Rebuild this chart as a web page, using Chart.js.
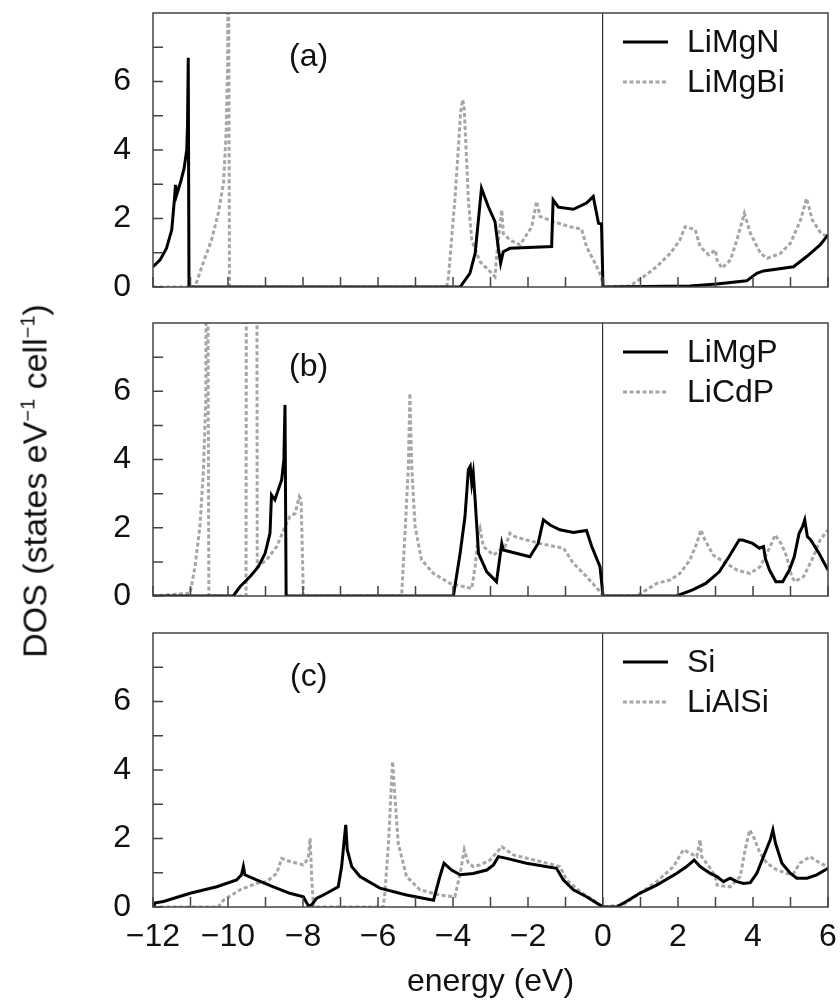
<!DOCTYPE html>
<html>
<head>
<meta charset="utf-8">
<title>DOS panels</title>
<script src="https://cdn.jsdelivr.net/npm/chart.js@4.4.1/dist/chart.umd.min.js"></script>
<style>
  html, body { margin: 0; padding: 0; background: #fff; }
  #wrap { position: relative; width: 840px; height: 1003px; overflow: hidden; }
  #wrap canvas { position: absolute; left: 0; }
  #ylabel {
    position: absolute; left: 35px; top: 481px;
    transform: translate(-50%, -50%) rotate(-90deg);
    white-space: nowrap; color: #111;
    font: 34px "Liberation Sans", Arial, sans-serif;
  }
  #ylabel sup { font-size: 20px; }
</style>
</head>
<body>
<div id="wrap">
  <canvas id="panelA" width="840" height="300" style="top:0px"></canvas>
  <canvas id="panelB" width="840" height="300" style="top:310px"></canvas>
  <canvas id="panelC" width="840" height="383" style="top:620px"></canvas>
  <div id="ylabel">DOS (states eV<sup>&minus;1</sup> cell<sup>&minus;1</sup>)</div>
</div>
<script>
// ---- data (energy in eV, DOS in states/eV/cell) ----

// (a) LiMgN
var limgnE = [-12, -11.81, -11.64, -11.50, -11.43, -11.40, -11.37, -11.26, -11.17, -11.10, -11.08, -11.06, -11.04,
  -3.81, -3.55, -3.41, -3.24, -3.06, -2.88, -2.79, -2.73, -2.66, -2.48, -1.37, -1.33, -1.19, -0.79, -0.44, -0.26, -0.12, -0.04, 0,
  2.32, 3.03, 3.83, 4.10, 4.28, 5.08, 5.43, 5.79, 6.0];
var limgnDos = [0.59, 0.79, 1.13, 1.67, 2.54, 2.98, 2.69, 3.08, 3.47, 4.01, 4.69, 6.69, 0,
  0, 0.40, 0.98, 2.88, 2.35, 1.91, 1.13, 0.69, 1.03, 1.13, 1.18, 2.54, 2.33, 2.27, 2.45, 2.64, 1.86, 1.84, 0,
  0.03, 0.09, 0.18, 0.40, 0.47, 0.59, 0.89, 1.23, 1.52];

// (a) LiMgBi
var limgbiE = [-12, -10.88, -10.70, -10.44, -10.26, -10.12, -10.05, -10.01, -9.99, -9.96,
  -4.17, -4.12, -4.04, -3.95, -3.86, -3.80, -3.74, -3.70, -3.65, -3.59, -3.50, -3.28, -3.01, -2.88, -2.83, -2.70, -2.66,
  -2.48, -2.21, -1.90, -1.77, -1.68, -1.33, -0.88, -0.57, -0.44, -0.21, -0.04, 0,
  0.72, 1.08, 1.43, 1.79, 2.05, 2.19, 2.32, 2.46, 2.59, 2.82, 3.00, 3.04, 3.17, 3.40, 3.57, 3.77, 3.93, 4.20, 4.38,
  4.73, 5.00, 5.27, 5.43, 5.58, 5.81, 6.0];
var limgbiDos = [0, 0, 0.59, 1.37, 2.15, 3.03, 4.49, 6.44, 12, 0,
  0, 0.30, 1.37, 2.54, 4.0, 5.08, 5.47, 5.2, 4.0, 2.54, 1.37, 0.74, 0.45, 0.30, 0.98, 2.25, 1.57,
  1.37, 1.23, 1.76, 2.50, 2.06, 1.91, 1.76, 1.69, 1.18, 0.69, 0.30, 0,
  0.03, 0.30, 0.59, 0.98, 1.37, 1.76, 1.72, 1.67, 1.18, 0.94, 1.08, 0.79, 0.55, 0.79, 1.37, 2.15, 1.57, 0.98, 0.84,
  0.98, 1.28, 1.96, 2.59, 1.96, 1.57, 1.47];

// (b) LiMgP
var limgpE = [-12, -9.86, -9.68, -9.41, -9.19, -9.01, -8.88, -8.84, -8.75, -8.66, -8.57, -8.51, -8.48, -8.45,
  -3.99, -3.81, -3.68, -3.59, -3.54, -3.50, -3.46, -3.41, -3.32, -3.10, -2.84, -2.70, -2.66, -1.95, -1.73, -1.59,
  -1.41, -1.15, -0.79, -0.44, -0.30, -0.08, 0,
  1.96, 2.39, 2.74, 3.10, 3.36, 3.63, 3.72, 3.99, 4.17, 4.28, 4.33, 4.44, 4.61, 4.79, 4.97, 5.10, 5.23, 5.32, 5.38,
  5.45, 5.54, 5.76, 6.0];
var limgpDos = [0, 0, 0.27, 0.57, 0.86, 1.25, 1.84, 2.96, 2.82, 3.11, 3.40, 3.99, 5.60, 0,
  0, 1.25, 2.33, 3.70, 3.80, 3.30, 3.60, 2.82, 1.25, 0.71, 0.42, 1.54, 1.35, 1.15, 1.54, 2.23,
  2.08, 1.94, 1.86, 1.92, 1.45, 0.86, 0,
  0, 0.18, 0.37, 0.71, 1.15, 1.64, 1.64, 1.54, 1.40, 1.45, 1.10, 0.76, 0.42, 0.42, 0.76, 1.15, 1.84, 2.03, 2.23,
  1.74, 1.64, 1.25, 0.76];

// (b) LiCdP
var licdpE = [-12, -11.01, -10.88, -10.75, -10.66, -10.59, -10.57, -10.51, -9.52, -9.50, -9.24, -9.22, -8.97, -8.70,
  -8.48, -8.35, -8.21, -8.10, -8.05, -7.99, -5.37, -5.28, -5.19, -5.15, -5.10, -5.01, -4.84, -4.52, -4.08, -3.50,
  -3.41, -3.32, -3.28, -3.19, -2.92, -2.61, -2.48, -2.35, -2.04, -1.68, -1.05, -0.79, -0.44, -0.04, 0,
  0.89, 1.16, 1.43, 1.79, 2.05, 2.32, 2.50, 2.61, 2.72, 2.94, 3.21, 3.57, 3.92, 4.19, 4.46, 4.59, 4.77, 4.90, 5.03,
  5.12, 5.35, 5.57, 5.79, 6.0];
var licdpDos = [0, 0.08, 0.86, 2.03, 3.60, 5.75, 20, 0, 0, 20, 20, 0.86, 1.06, 1.45,
  2.03, 2.33, 2.42, 2.91, 2.82, 0, 0, 1.84, 3.79, 5.94, 3.79, 2.03, 1.06, 0.66, 0.37, 0.22,
  0.86, 1.84, 1.98, 1.45, 1.20, 1.45, 1.84, 1.74, 1.64, 1.54, 1.40, 0.96, 0.57, 0.08, 0,
  0, 0.18, 0.37, 0.47, 0.66, 1.06, 1.54, 1.94, 1.64, 1.20, 1.01, 0.76, 0.66, 0.86, 1.45, 1.79, 1.50, 1.15, 0.57,
  0.42, 0.57, 1.06, 1.64, 1.94];

// (c) Si
var siE = [-12, -11.94, -11.72, -11.01, -10.30, -9.77, -9.64, -9.59, -9.55, -9.24, -8.79, -8.35, -7.99, -7.86, -7.77,
  -7.64, -7.37, -7.06, -6.97, -6.91, -6.86, -6.82, -6.70, -6.48, -5.95, -5.24, -4.52, -4.35, -4.24, -4.04, -3.81,
  -3.46, -3.10, -2.92, -2.79, -2.57, -2.04, -1.24, -1.06, -0.79, -0.44, 0,
  0.36, 0.62, 0.98, 1.43, 1.96, 2.23, 2.43, 2.59, 2.86, 3.04, 3.21, 3.39, 3.57, 3.75, 3.93, 4.10, 4.28, 4.46, 4.53,
  4.60, 4.77, 5.00, 5.17, 5.44, 5.70, 6.0];
var siDos = [0, 0.12, 0.16, 0.40, 0.59, 0.79, 0.94, 1.18, 0.94, 0.79, 0.59, 0.40, 0.30, 0.04, 0.06,
  0.25, 0.40, 0.59, 1.18, 1.86, 2.40, 1.67, 1.18, 0.89, 0.55, 0.35, 0.20, 0.89, 1.28, 1.08, 0.94,
  0.98, 1.08, 1.23, 1.47, 1.42, 1.28, 1.13, 0.79, 0.50, 0.30, 0,
  0, 0.16, 0.40, 0.64, 0.98, 1.18, 1.37, 1.18, 0.98, 0.89, 0.74, 0.84, 0.74, 0.69, 0.71, 0.98, 1.47, 1.96, 2.25,
  1.86, 1.28, 0.98, 0.84, 0.84, 0.94, 1.13];

// (c) LiAlSi
var lialsiE = [-12, -10.26, -10.12, -9.68, -9.24, -8.97, -8.70, -8.57, -8.35, -7.99, -7.86, -7.81, -7.77, -7.72,
  -5.86, -5.81, -5.72, -5.66, -5.61, -5.55, -5.46, -5.24, -4.88, -4.35, -3.95, -3.81, -3.70, -3.59, -3.46, -3.28,
  -3.01, -2.70, -2.39, -1.68, -1.15, -0.97, -0.61, -0.25, 0,
  0.53, 0.98, 1.43, 1.88, 2.14, 2.32, 2.50, 2.59, 2.63, 2.86, 3.00, 3.04, 3.39, 3.66, 3.79, 3.91, 4.01, 4.19, 4.37,
  4.64, 4.90, 5.08, 5.25, 5.52, 5.79, 6.0];
var lialsiDos = [0, 0, 0.20, 0.50, 0.69, 0.74, 0.98, 1.42, 1.33, 1.23, 1.42, 2.01, 0.89, 0,
  0, 0.50, 1.86, 3.23, 4.25, 3.23, 1.86, 0.89, 0.50, 0.35, 0.30, 0.98, 1.67, 1.28, 1.18, 1.23,
  1.37, 1.76, 1.52, 1.33, 1.18, 0.79, 0.45, 0.20, 0,
  0.06, 0.40, 0.74, 1.18, 1.67, 1.57, 1.47, 1.96, 1.47, 1.13, 0.89, 0.64, 0.59, 0.89, 1.67, 2.25, 2.06, 1.57, 1.28,
  1.08, 0.98, 0.98, 1.28, 1.47, 1.28, 1.18];

var energyTicks = [-12, -10, -8, -6, -4, -2, 0, 2, 4, 6];
var dosTicks = [0, 2, 4, 6];

// ---- styling ----
var FONT_FAMILY = '"Liberation Sans", Arial, Helvetica, sans-serif';
var FONT_SIZE = 32;
var INK = '#111';

function pts(es, ds) {
  return es.map(function(e, i) { return { x: e, y: ds[i] }; });
}

function solid(label, es, ds) {
  return { label: label, data: pts(es, ds), borderColor: '#000', borderWidth: 3, order: 1 };
}

function dashed(label, es, ds) {
  return { label: label, data: pts(es, ds), borderColor: '#a6a6a6', borderWidth: 3, borderDash: [4, 2.5], order: 2 };
}

// frame, inward ticks, panel tag and legend
var framePlugin = {
  id: 'frame',
  afterDatasetsDraw: function(chart, args, opts) {
    var ctx = chart.ctx, a = chart.chartArea, x = chart.scales.x, y = chart.scales.y;
    ctx.save();
    ctx.strokeStyle = '#444';
    ctx.lineWidth = 1.5;
    ctx.strokeRect(a.left, a.top, a.right - a.left, a.bottom - a.top);
    ctx.beginPath();
    for (var v = x.min; v <= x.max; v += 1) {
      var px = x.getPixelForValue(v);
      ctx.moveTo(px, a.bottom);
      ctx.lineTo(px, a.bottom - 10);
    }
    for (var w = y.min; w < y.max; w += 1) {
      var py = y.getPixelForValue(w);
      ctx.moveTo(a.left, py);
      ctx.lineTo(a.left + 10, py);
    }
    ctx.stroke();

    ctx.fillStyle = INK;
    ctx.font = FONT_SIZE + 'px ' + FONT_FAMILY;
    ctx.textAlign = 'center';
    ctx.textBaseline = 'middle';
    ctx.fillText(opts.tag, x.getPixelForValue(opts.tagAt[0]), y.getPixelForValue(opts.tagAt[1]));

    ctx.textAlign = 'left';
    chart.data.datasets.forEach(function(ds, i) {
      var ly = a.top + 29 + i * 40;
      ctx.beginPath();
      ctx.strokeStyle = ds.borderColor;
      ctx.lineWidth = ds.borderWidth;
      ctx.setLineDash(ds.borderDash || []);
      ctx.moveTo(a.right - 205, ly);
      ctx.lineTo(a.right - 160, ly);
      ctx.stroke();
      ctx.setLineDash([]);
      ctx.fillText(ds.label, a.right - 141, ly + 1);
    });
    ctx.restore();
  }
};

function makePanel(id, tag, datasets, padBottom, showX) {
  var font = { family: FONT_FAMILY, size: FONT_SIZE };
  return new Chart(document.getElementById(id), {
    type: 'line',
    data: { datasets: datasets },
    options: {
      responsive: false,
      animation: false,
      layout: { padding: { top: 13, right: 12, bottom: padBottom, left: 0 } },
      elements: { point: { radius: 0 }, line: { tension: 0, borderCapStyle: 'butt', borderJoinStyle: 'miter' } },
      plugins: {
        legend: { display: false },
        tooltip: { enabled: false },
        frame: { tag: tag, tagAt: [-7.85, 6.72] }
      },
      scales: {
        x: {
          type: 'linear', min: -12, max: 6,
          afterBuildTicks: function(axis) { axis.ticks = energyTicks.map(function(v) { return { value: v }; }); },
          ticks: {
            display: showX, font: font, color: INK, padding: 11, maxRotation: 0, autoSkip: false,
            callback: function(v) { return v < 0 ? '\u2212' + Math.abs(v) : String(v); }
          },
          grid: {
            drawTicks: false, lineWidth: 1.2,
            color: function(c) { return c.tick && c.tick.value === 0 ? '#333' : 'rgba(0,0,0,0)'; }
          },
          border: { display: false },
          title: { display: showX, text: 'energy (eV)', font: font, color: INK, padding: { top: 0, bottom: 2 } },
          afterFit: function(axis) {
            axis.height = showX ? 96 : 0;
            axis.paddingLeft = 0; axis.paddingRight = 0;
          }
        },
        y: {
          min: 0, max: 8,
          afterBuildTicks: function(axis) { axis.ticks = dosTicks.map(function(v) { return { value: v }; }); },
          ticks: { font: font, color: INK, padding: 22 },
          grid: { display: false, drawTicks: false },
          border: { display: false },
          afterFit: function(axis) {
            axis.width = 153;
            axis.paddingTop = 0; axis.paddingBottom = 0;
          }
        }
      }
    },
    plugins: [framePlugin]
  });
}

makePanel('panelA', '(a)', [solid('LiMgN', limgnE, limgnDos), dashed('LiMgBi', limgbiE, limgbiDos)], 13, false);
makePanel('panelB', '(b)', [solid('LiMgP', limgpE, limgpDos), dashed('LiCdP', licdpE, licdpDos)], 14, false);
makePanel('panelC', '(c)', [solid('Si', siE, siDos), dashed('LiAlSi', lialsiE, lialsiDos)], 0, true);
</script>
</body>
</html>
